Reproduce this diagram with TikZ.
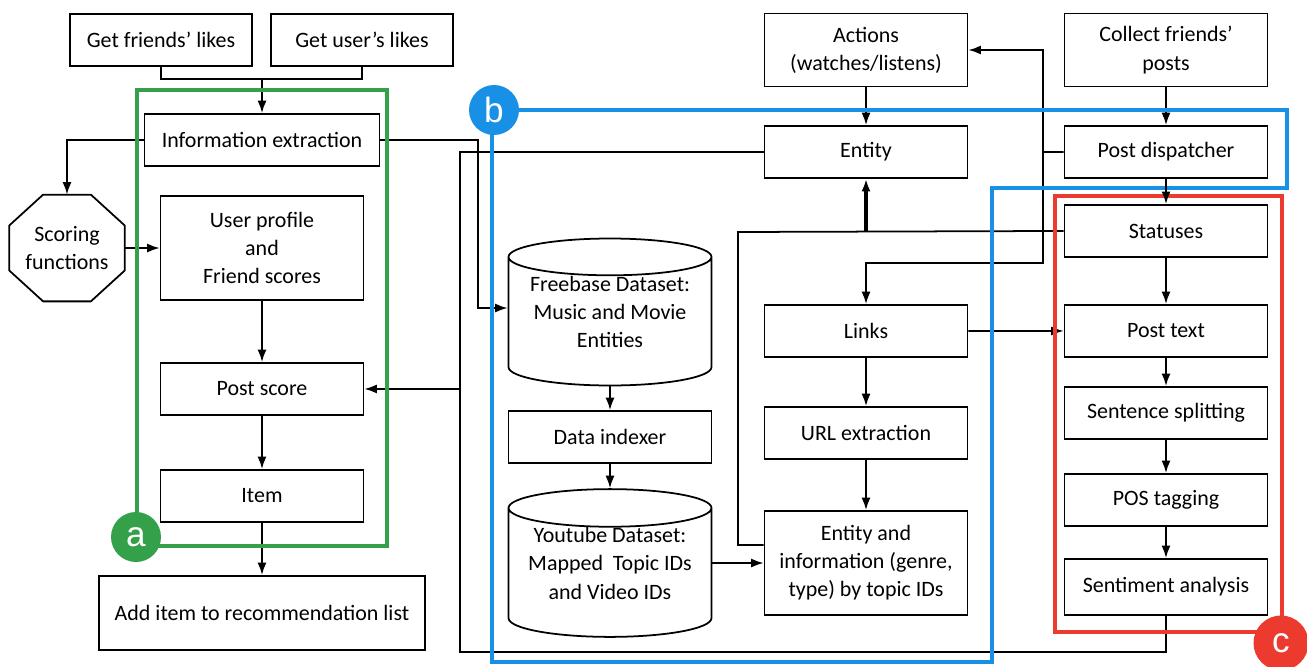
\documentclass[tikz,border=0pt]{standalone}
\usepackage{fontspec}
\setmainfont{Carlito}
\newfontfamily\tagfont{Liberation Sans}
\usetikzlibrary{positioning, arrows.meta, shapes.geometric, calc}

\definecolor{grpgreen}{RGB}{52,160,74}
\definecolor{grpblue}{RGB}{24,144,230}
\definecolor{grpred}{RGB}{236,58,46}

\newcommand{\dbdepth}{\rule[-0.38cm]{0pt}{0pt}}

\tikzset{
  box/.style={draw, minimum width=4.06cm, minimum height=1.04cm, align=center, inner sep=2pt},
  db/.style={draw, cylinder, shape border rotate=90, shape aspect=0.23, minimum width=4.06cm, minimum height=2.94cm, align=center, inner sep=0pt, anchor=shape center},
  octa/.style={minimum width=2.28cm, minimum height=2.1cm, inner sep=0pt, align=center},
  group/.style={line width=2.3pt},
  tag/.style={circle, minimum size=1cm, inner sep=0pt, text=white, font=\tagfont\fontsize{20}{20}\selectfont},
}

\begin{document}
\begin{tikzpicture}[x=0.02cm, y=-0.02cm, >={Latex[length=2.5mm,width=1.8mm]}, line width=1pt, font=\fontsize{12.5}{16}\selectfont, on grid]
\useasboundingbox (0,0) rectangle (1307,666);

% user side
\node[box, minimum width=3.64cm] (friends) at (161,40) {Get friends' likes};
\node[box, minimum width=3.64cm] (users) [right=4.02cm of friends] {Get user's likes};
\node[box, minimum width=4.7cm] (ie) at (262,140) {Information extraction};
\node[octa] (score) at (67,248) {Scoring\\functions};
\draw ([xshift=0.68cm]score.north west) -- ([xshift=-0.68cm]score.north east)
  -- ([yshift=-0.62cm]score.north east) -- ([yshift=0.62cm]score.south east)
  -- ([xshift=-0.68cm]score.south east) -- ([xshift=0.68cm]score.south west)
  -- ([yshift=0.62cm]score.south west) -- ([yshift=-0.62cm]score.north west) -- cycle;
\node[box, minimum height=2.08cm] (prof) at (262,248) {User profile\\and\\Friend scores};
\node[box] (ps) [below=2.82cm of prof] {Post score};
\node[box] (item) [below=2.14cm of ps] {Item};
\node[box, minimum width=6.52cm, minimum height=1.48cm] (add) [below=2.34cm of item] {Add item to recommendation list};

% datasets
\node[db] (fb) at (610,312) {Freebase Dataset:\\Music and Movie\\Entities\dbdepth};
\node[box] (di) at (610,437) {Data indexer};
\node[db] (yt) at (610,563) {Youtube Dataset:\\Mapped~ Topic IDs\\and Video IDs\dbdepth};

% entities
\node[box, minimum height=1.46cm] (act) at (866,50) {Actions\\(watches/listens)};
\node[box] (ent) [below=2.04cm of act] {Entity};
\node[box] (lk) at (866,331) {Links};
\node[box] (url) [below=2.04cm of lk] {URL extraction};
\node[box, minimum height=2.08cm] (eti) [below=2.6cm of url] {Entity and\\information (genre,\\type) by topic IDs};

% posts
\node[box, minimum height=1.46cm] (cfp) at (1166,50) {Collect friends'\\posts};
\node[box] (pd) [below=2.04cm of cfp] {Post dispatcher};
\node[box] (st) [below=1.58cm of pd] {Statuses};
\node[box] (pt) [below=2cm of st] {Post text};
\node[box] (ss) [below=1.64cm of pt] {Sentence splitting};
\node[box] (pos) [below=1.74cm of ss] {POS tagging};
\node[box, minimum height=1.12cm] (sa) [below=1.74cm of pos] {Sentiment analysis};

\coordinate (likes) at (262,79);
\coordinate (back) at (460,652);
\coordinate (stl) at (738,232);
\coordinate (pdl) at (1043,152);

\draw (friends.south) |- (likes) -| (users.south);
\draw[->] (likes) -- (ie.north);
\draw[->] (ie.west) -| (score.north);
\draw[->] (ie.east) -- ++(98,0) |- ([yshift=0.08cm]fb.shape center -| fb.west);
\draw (sa.south) |- (back) |- (ent.west);
\draw[->] (back |- ps.east) -- (ps.east);
\draw (st.west) -- (stl) |- ([yshift=0.36cm]eti.west);
\draw[->, line width=1.8pt] (st.west -| ent.south) -- (ent.south);
\draw (pd.west) -- (pdl);
\draw[->] (pdl) |- (act.east);
\draw[->] (pdl) -- ++(0,111) -| (lk.north);

\path[->]
  (score) edge (prof)
  (prof) edge (ps)
  (ps) edge (item)
  (item) edge (add)
  (fb) edge (di)
  (di) edge (yt)
  (act) edge (ent)
  (lk) edge (url)
       edge (pt)
  (url) edge (eti)
  (cfp) edge (pd)
  (st) edge (pt)
  (pt) edge (ss)
  (ss) edge (pos)
  (pos) edge (sa);
\draw[->] (yt.shape center -| yt.east) -- (yt.shape center -| eti.west);

% groups
\draw[grpgreen, group] (137,90) rectangle (387,546);
\node[tag, fill=grpgreen] (tagA) at (136,537) {a};
\draw[grpblue, group] (492,110) -- (1287,110) -- (1287,188) -- (992,188) -- (992,662) -- (492,662) -- cycle;
\node[tag, fill=grpblue] (tagB) at (494,110) {b};
\draw[grpred, group] (1055,196) rectangle (1282,632);
\node[tag, fill=grpred, minimum size=1.1cm] (tagC) at (1281,643) {c};

\draw[->] (pd) -- (st);
\end{tikzpicture}
\end{document}
